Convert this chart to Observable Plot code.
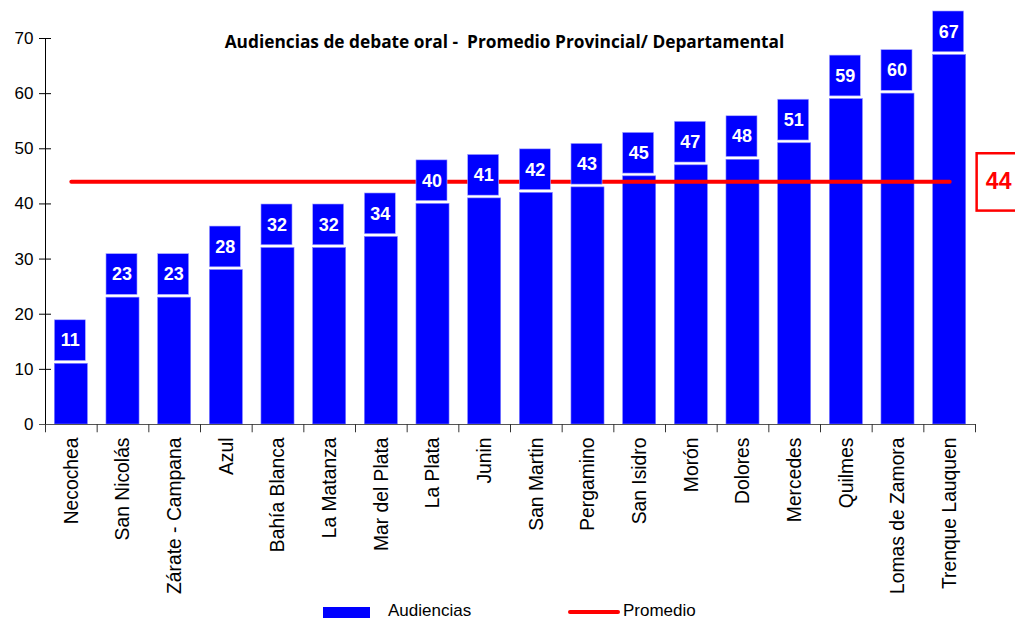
<!DOCTYPE html>
<html>
<head>
<meta charset="utf-8">
<script src="https://cdn.jsdelivr.net/npm/d3@7"></script>
<script src="https://cdn.jsdelivr.net/npm/@observablehq/plot@0.6"></script>
<style>
  body { margin: 0; background: #fff; font-family: "Liberation Sans", Arial, sans-serif; }
  #legend { position: relative; width: 1015px; height: 22px; font-size: 17px; color: #000; }
  #legend .sw { position: absolute; }
  #legend .lb { position: absolute; top: 3px; line-height: 20px; }
</style>
</head>
<body>
<div id="chart"></div>
<div id="legend">
  <div class="sw" style="left:323px; top:9px; width:47px; height:11px; background:#0000ff;"></div>
  <div class="lb" style="left:388px;">Audiencias</div>
  <div class="sw" style="left:568px; top:12px; width:52px; height:4px; border-radius:2px; background:#ff0000;"></div>
  <div class="lb" style="left:623px;">Promedio</div>
</div>
<script>
const categories = ["Necochea", "San Nicolás", "Zárate - Campana", "Azul", "Bahía Blanca", "La Matanza", "Mar del Plata", "La Plata", "Junin", "San Martin", "Pergamino", "San Isidro", "Morón", "Dolores", "Mercedes", "Quilmes", "Lomas de Zamora", "Trenque Lauquen"];
const audiencias = [11, 23, 23, 28, 32, 32, 34, 40, 41, 42, 43, 45, 47, 48, 51, 59, 60, 67];
const promedio = 44;
const yTicks = [0, 10, 20, 30, 40, 50, 60, 70];
const titleText = "Audiencias de debate oral -  Promedio Provincial/ Departamental";

const data = categories.map((c, i) => ({cat: c, v: audiencias[i]}));
const lastCat = categories[categories.length - 1];
const step = 930 / categories.length;

const chart = Plot.plot({
  width: 1015,
  height: 598,
  marginLeft: 45,
  marginRight: 40,
  marginTop: 38,
  marginBottom: 174,
  style: {fontFamily: "'Liberation Sans', Arial, sans-serif", background: "#fff", overflow: "visible"},
  x: {domain: categories, paddingInner: 0.36, paddingOuter: 0.18, round: false, label: null},
  y: {domain: [0, 70], label: null},
  marks: [
    // bars
    Plot.barY(data, {x: "cat", y: "v", fill: "#0000ff", stroke: "#8080ff", strokeWidth: 0.6}),
    // average line
    Plot.line(categories, {x: d => d, y: () => promedio, stroke: "#ff0000", strokeWidth: 4, strokeLinecap: "round"}),
    // value label boxes
    Plot.barY(data, {x: "cat", y1: d => d.v + 0.5, y2: d => d.v + 7.9, fill: "#0000ff", stroke: "#b0b0ff", strokeWidth: 0.6, insetLeft: 0, insetRight: 2}),
    Plot.text(data, {x: "cat", y: d => d.v + 4.2, text: d => String(d.v), fill: "#fff", fontSize: 18, fontWeight: "bold", dx: -1}),
    // y axis
    Plot.ruleX([0], {x: () => categories[0], y1: 0, y2: 70, dx: -step / 2, stroke: "#000"}),
    Plot.axisY({ticks: yTicks, tickSize: 6, tickPadding: 6, fontSize: 17, stroke: "#000"}),
    Plot.axisY({ticks: yTicks, tickSize: -6, tickFormat: () => "", stroke: "#000"}),
    // x axis baseline and ticks at band boundaries
    Plot.ruleY([0], {stroke: "#555", strokeWidth: 1.2, insetLeft: -6}),
    Plot.ruleX(categories, {x: d => d, y1: 0, y2: -1.5, dx: -step / 2, stroke: "#333"}),
    Plot.ruleX([lastCat], {x: d => d, y1: 0, y2: -1.5, dx: step / 2, stroke: "#333"}),
    Plot.axisX({tickSize: 0, tickPadding: 13, tickRotate: -90, fontSize: 19.3, fill: "#000"}),
    // title
    Plot.text([titleText], {frameAnchor: "top", dy: 4, dx: -6, lineAnchor: "middle", fontSize: 17.3, fontWeight: "bold", fontFamily: "'Open Sans', sans-serif", fill: "#000"}),
    // average value box at right
    Plot.barY([promedio], {x: () => lastCat, y1: d => d - 5.3, y2: d => d + 5.1, dx: 44, insetRight: -10, fill: "#fff", stroke: "#ff0000", strokeWidth: 2.5}),
    Plot.text([promedio], {x: () => lastCat, y: d => d, dx: 49, text: d => String(d), fill: "#ff0000", fontSize: 23, fontWeight: "bold"})
  ]
});
document.getElementById("chart").appendChild(chart);
</script>
</body>
</html>
